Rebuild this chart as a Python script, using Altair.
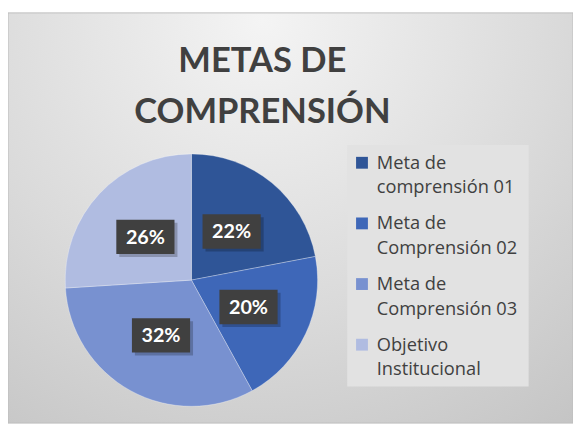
import altair as alt
import pandas as pd

# ---- data ----
categories = ["Meta de comprensión 01", "Meta de Comprensión 02",
              "Meta de Comprensión 03", "Objetivo Institucional"]
legend_lines = ["Meta de\ncomprensión 01", "Meta de\nComprensión 02",
                "Meta de\nComprensión 03", "Objetivo\nInstitucional"]
values = [22, 20, 32, 26]
colors = ["#2F5597", "#3E67B8", "#7891D0", "#B0BCE1"]
title_lines = ["METAS DE", "COMPRENSIÓN"]

W, H = 573, 418
CX, CY, R = 186, 273, 128

df = pd.DataFrame({
    "cat": categories,
    "legend": legend_lines,
    "value": values,
    "idx": list(range(len(values))),
})

base = alt.Chart(df)
color_scale = alt.Scale(domain=categories, range=colors)

# background panel with radial gradient
bg = alt.Chart(pd.DataFrame({"a": [0]})).mark_rect(
    fill={
        "gradient": "radial",
        "x1": 0.45, "y1": 0.15, "r1": 0,
        "x2": 0.45, "y2": 0.15, "r2": 0.95,
        "stops": [
            {"offset": 0, "color": "#F4F4F4"},
            {"offset": 0.55, "color": "#DADADA"},
            {"offset": 1, "color": "#C2C2C2"},
        ],
    },
    stroke="#BDBDBD", strokeWidth=1,
).encode(x=alt.value(0), x2=alt.value(W), y=alt.value(2), y2=alt.value(H))

# pie
pie = base.mark_arc(outerRadius=R, stroke="#FFFFFF", strokeWidth=0.3).encode(
    theta=alt.Theta("value:Q", stack=True),
    color=alt.Color("cat:N", scale=color_scale, legend=None),
    order=alt.Order("idx:Q"),
    x=alt.value(CX), y=alt.value(CY),
)

# label positions from the data (mid-angle of each slice)
lab = base.transform_window(
    cum="sum(value)", sort=[alt.SortField("idx")]
).transform_joinaggregate(
    total="sum(value)"
).transform_calculate(
    ang="2*PI*(datum.cum - datum.value/2)/datum.total",
    px=f"{CX} + {R/2}*sin(datum.ang)",
    py=f"{CY} - {R/2}*cos(datum.ang)",
    pct="format(datum.value/datum.total, '.0%')",
)

box_path = "M-1,-0.59L1,-0.59L1,0.59L-1,0.59Z"
shadow = lab.mark_point(shape=box_path, filled=True, size=3481,
                        color="#000000", opacity=0.22, xOffset=3, yOffset=3).encode(
    x=alt.X("px:Q", scale=None, axis=None), y=alt.Y("py:Q", scale=None, axis=None))
boxes = lab.mark_point(shape=box_path, filled=True, size=3481,
                       color="#404040", opacity=1).encode(
    x=alt.X("px:Q", scale=None, axis=None), y=alt.Y("py:Q", scale=None, axis=None))
labels = lab.mark_text(font="Lato", fontWeight="bold", fontSize=20,
                       color="#FFFFFF", baseline="middle", align="center", dy=1).encode(
    x=alt.X("px:Q", scale=None, axis=None), y=alt.Y("py:Q", scale=None, axis=None),
    text="pct:N")

# title
title = alt.Chart(pd.DataFrame({"t": [title_lines]})).mark_text(
    font="Lato", fontWeight="bold", fontSize=35, color="#404040",
    align="center", baseline="alphabetic", lineHeight=52,
).encode(x=alt.value(258), y=alt.value(62), text="t")

# legend (manual)
leg_box = alt.Chart(pd.DataFrame({"a": [0]})).mark_rect(fill="#E2E2E2").encode(
    x=alt.value(344), x2=alt.value(528), y=alt.value(136), y2=alt.value(381))
leg_pos = base.transform_calculate(
    sy="154 + 61.5*datum.idx", ty="160 + 61.5*datum.idx")
swatches = leg_pos.mark_square(size=144, opacity=1).encode(
    x=alt.value(359),
    y=alt.Y("sy:Q", scale=None, axis=None),
    color=alt.Color("cat:N", scale=color_scale, legend=None),
)
leg_text = leg_pos.mark_text(
    font="Open Sans", fontSize=18.5, color="#404040", align="left",
    baseline="alphabetic", lineBreak="\n", lineHeight=25,
).encode(x=alt.value(374), y=alt.Y("ty:Q", scale=None, axis=None), text="legend:N")

chart = alt.layer(
    bg, pie, shadow, boxes, labels, title, leg_box, swatches, leg_text
).properties(
    width=W, height=H, autosize=alt.AutoSizeParams(type="none"), padding=0,
    background="#FFFFFF",
).configure_view(stroke=None)

chart.save("out.html", embed_options={"renderer": "svg", "actions": False})
